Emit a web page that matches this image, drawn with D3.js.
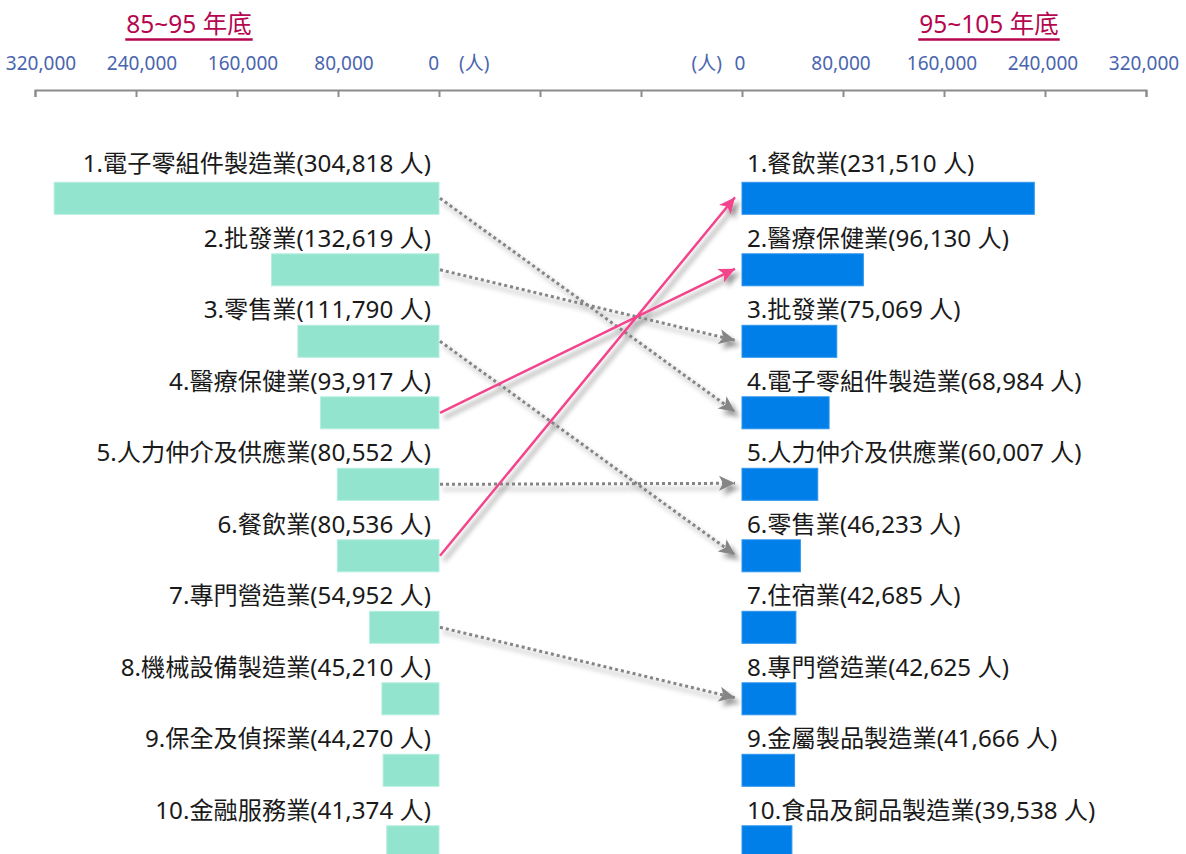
<!DOCTYPE html>
<html>
<head>
<meta charset="utf-8">
<script src="https://cdn.jsdelivr.net/npm/d3@7"></script>
<style>
  body { margin: 0; background: #fff; }
  svg { display: block; font-family: "Noto Sans", "Noto Sans CJK TC", sans-serif; }
</style>
</head>
<body>
<div id="chart"></div>
<script>
// 85~95 年底 top 10
const leftCats = ["電子零組件製造業", "批發業", "零售業", "醫療保健業", "人力仲介及供應業", "餐飲業", "專門營造業", "機械設備製造業", "保全及偵探業", "金融服務業"]
const leftVals = [304818, 132619, 111790, 93917, 80552, 80536, 54952, 45210, 44270, 41374]

// 95~105 年底 top 10
const rightCats = ["餐飲業", "醫療保健業", "批發業", "電子零組件製造業", "人力仲介及供應業", "零售業", "住宿業", "專門營造業", "金屬製品製造業", "食品及飼品製造業"]
const rightVals = [231510, 96130, 75069, 68984, 60007, 46233, 42685, 42625, 41666, 39538]

const tickVals = [320000, 240000, 160000, 80000, 0]
const titles = ["85~95 年底", "95~105 年底"]

const width = 1186
const height = 854

const svg = d3.select("#chart").append("svg")
  .attr("width", width)
  .attr("height", height)

const defs = svg.append("defs")
const shadow = defs.append("filter").attr("id", "shadow")
  .attr("x", "-20%").attr("y", "-20%").attr("width", "140%").attr("height", "140%")
shadow.append("feDropShadow")
  .attr("dx", 4).attr("dy", 5).attr("stdDeviation", 2.5)
  .attr("flood-color", "#000").attr("flood-opacity", 0.42)

function marker(id, color) {
  defs.append("marker")
    .attr("id", id)
    .attr("markerUnits", "userSpaceOnUse")
    .attr("viewBox", "-1 -9 20 18")
    .attr("markerWidth", 20).attr("markerHeight", 18)
    .attr("refX", 16).attr("refY", 0)
    .attr("orient", "auto")
    .append("path")
    .attr("d", "M0,-7.5L16,0L0,7.5L4,0Z")
    .attr("fill", color)
}
marker("arrowGray", "#858585")
marker("arrowPink", "#f2448c")

// scales
const xL = d3.scaleLinear().domain([0, 320000]).range([439, 35])
const xR = d3.scaleLinear().domain([0, 320000]).range([742, 1146])
const xAxisScale = xL.copy().domain([320000, -560000]).range([35, 1146])

const y = d3.scaleBand()
  .domain(d3.range(10))
  .range([182.3, 182.3 + 9 * 71.5 + 32])
  .paddingInner(1 - 32 / 71.5)
  .paddingOuter(0)

const fmt = d3.format(",")

// axis
const axisG = svg.append("g")
  .attr("transform", "translate(0,90)")
  .call(d3.axisBottom(xAxisScale)
    .tickValues(d3.range(320000, -560001, -80000))
    .tickSize(7)
    .tickFormat(""))
axisG.selectAll("path, line").attr("stroke", "#8c8c8c").attr("stroke-width", 2)

// tick labels
const tickColor = "#4a65ae"
svg.append("g").selectAll("text")
  .data(tickVals)
  .join("text")
  .attr("x", d => d === 0 ? xL(0) : xL(d) + 6)
  .attr("y", 70)
  .attr("text-anchor", d => d === 0 ? "end" : "middle")
  .attr("font-size", 19)
  .attr("fill", tickColor)
  .text(d => fmt(d))
svg.append("g").selectAll("text")
  .data(tickVals)
  .join("text")
  .attr("x", d => xR(d) - 2)
  .attr("y", 70)
  .attr("text-anchor", "middle")
  .attr("font-size", 19)
  .attr("fill", tickColor)
  .text(d => fmt(d))
svg.append("text")
  .attr("x", xL(0) + 20).attr("y", 70)
  .attr("font-size", 19).attr("fill", tickColor)
  .text("(人)")
svg.append("text")
  .attr("x", xR(0) - 20).attr("y", 70)
  .attr("text-anchor", "end")
  .attr("font-size", 19).attr("fill", tickColor)
  .text("(人)")

// titles
const titleColor = "#b4074f"
;[189, 989].forEach((cx, i) => {
  const t = svg.append("text")
    .attr("x", cx).attr("y", 33)
    .attr("text-anchor", "middle")
    .attr("font-size", 24.5)
    .attr("fill", titleColor)
    .text(titles[i])
  const w = t.node().getComputedTextLength()
  svg.append("line")
    .attr("x1", cx - w / 2 - 1).attr("x2", cx + w / 2 + 1)
    .attr("y1", 39.5).attr("y2", 39.5)
    .attr("stroke", titleColor).attr("stroke-width", 2.5)
})

// left bars
svg.append("g").selectAll("rect")
  .data(leftVals)
  .join("rect")
  .attr("x", d => xL(d))
  .attr("y", (d, i) => y(i))
  .attr("width", d => xL(0) - xL(d))
  .attr("height", y.bandwidth())
  .attr("fill", "#93e4ce")
  .attr("stroke", "#b4eedf")
  .attr("stroke-width", 1)

svg.append("g").selectAll("text")
  .data(leftVals)
  .join("text")
  .attr("x", xL(0) - 8)
  .attr("y", (d, i) => y(i) - (i === 0 ? 10 : 7))
  .attr("text-anchor", "end")
  .attr("font-size", 24.2)
  .attr("fill", "#1a1a1a")
  .text((d, i) => `${i + 1}.${leftCats[i]}(${fmt(d)} 人)`)

// right bars
svg.append("g").selectAll("rect")
  .data(rightVals)
  .join("rect")
  .attr("x", xR(0))
  .attr("y", (d, i) => y(i))
  .attr("width", d => xR(d) - xR(0))
  .attr("height", y.bandwidth())
  .attr("fill", "#007fe8")
  .attr("stroke", "#2e95ee")
  .attr("stroke-width", 1)

svg.append("g").selectAll("text")
  .data(rightVals)
  .join("text")
  .attr("x", xR(0) + 5)
  .attr("y", (d, i) => y(i) - (i === 0 ? 10 : 7))
  .attr("font-size", 24.2)
  .attr("fill", "#1a1a1a")
  .text((d, i) => `${i + 1}.${rightCats[i]}(${fmt(d)} 人)`)

// rank change arrows
const links = leftCats
  .map((c, i) => ({ from: i, to: rightCats.indexOf(c) }))
  .filter(l => l.to >= 0)

const mid = i => y(i) + y.bandwidth() / 2
const arrowG = svg.append("g").attr("filter", "url(#shadow)")
// gray first, pink on top
links.sort((a, b) => (a.to < a.from) - (b.to < b.from))
arrowG.selectAll("line")
  .data(links)
  .join("line")
  .attr("x1", xL(0) + 1)
  .attr("y1", d => mid(d.from))
  .attr("x2", xR(0) - 7)
  .attr("y2", d => mid(d.to) - 1)
  .attr("stroke", d => d.to < d.from ? "#f2448c" : "#858585")
  .attr("stroke-width", d => d.to < d.from ? 2.5 : 3)
  .attr("stroke-dasharray", d => d.to < d.from ? null : "3,3")
  .attr("marker-end", d => d.to < d.from ? "url(#arrowPink)" : "url(#arrowGray)")
</script>
</body>
</html>
